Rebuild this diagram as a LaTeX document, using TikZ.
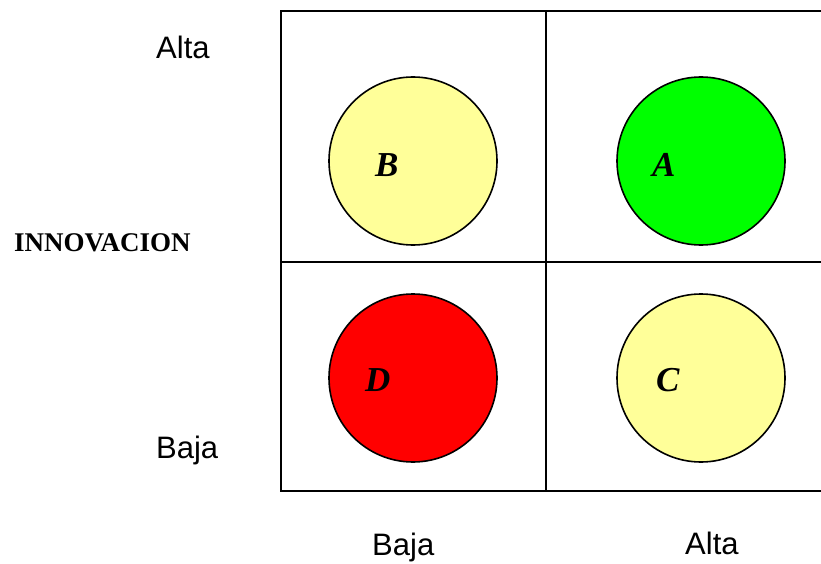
\documentclass[tikz,border=0pt]{standalone}
\usepackage{fontspec}
\setmainfont{Liberation Serif}
\newfontfamily\arialfont{Liberation Sans}
\begin{document}
\begin{tikzpicture}[x=1pt,y=-1pt,
  gridline/.style={line width=2pt, line cap=rect},
  bubble/.style={circle, draw=black, line width=1.6pt, minimum size=168pt, inner sep=0pt},
  axislab/.style={font=\arialfont\fontsize{31}{36}\selectfont, anchor=base west, inner sep=0pt},
  letterlab/.style={font=\bfseries\itshape\fontsize{35}{40}\selectfont, anchor=base west, inner sep=0pt}]
\useasboundingbox (0,0) rectangle (821,564);
\definecolor{paleyellow}{HTML}{FFFF99}
\definecolor{brightgreen}{HTML}{00FF00}
\definecolor{brightred}{HTML}{FF0000}
% grid
\coordinate (tl) at (281,11);
\coordinate (tr) at (823,11);
\coordinate (ml) at (281,262);
\coordinate (mr) at (823,262);
\coordinate (bl) at (281,491);
\coordinate (br) at (823,491);
\coordinate (vt) at (546,11);
\coordinate (vb) at (546,491);
\draw[gridline] (tl) -- (tr);
\draw[gridline] (ml) -- (mr);
\draw[gridline] (bl) -- (br);
\draw[gridline] (tl) -- (bl);
\draw[gridline] (vt) -- (vb);
% circles
\node[bubble, fill=paleyellow] (cB) at (413,161) {};
\node[bubble, fill=brightgreen] (cA) at (701,161) {};
\node[bubble, fill=brightred] (cD) at (413,378) {};
\node[bubble, fill=paleyellow] (cC) at (701,378) {};
% letters
\node[letterlab] (lB) at (375,176) {B};
\node[letterlab] (lA) at (652,176) {A};
\node[letterlab] (lD) at (365,391) {D};
\node[letterlab] (lC) at (656,391) {C};
% axis labels
\node[axislab] (yalta) at (156,59) {Alta};
\node[axislab] (ybaja) at (156,458) {Baja};
\node[axislab] (xbaja) at (372,555) {Baja};
\node[axislab] (xalta) at (685,554) {Alta};
\node[font=\bfseries\fontsize{27}{30}\selectfont, anchor=base west, inner sep=0pt] (innov) at (14,251) {INNOVACION};
\end{tikzpicture}
\end{document}
